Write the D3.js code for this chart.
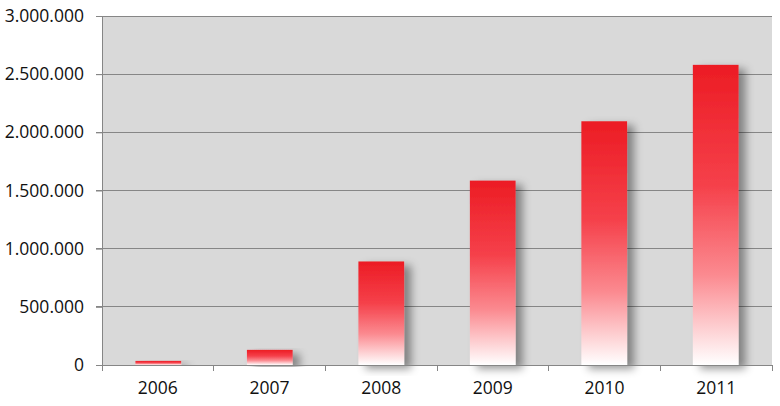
<!DOCTYPE html>
<html><head><meta charset="utf-8">
<script src="https://cdn.jsdelivr.net/npm/d3@7/dist/d3.min.js"></script>
<style>body{margin:0;background:#fff}svg{display:block}text{font-family:"Open Sans",sans-serif}</style>
</head><body>
<svg id="c" width="780" height="406"></svg>
<script>
const years = ["2006","2007","2008","2009","2010","2011"];
const values = [35000, 130000, 890000, 1585000, 2095000, 2580000];
const yTicks = [0, 500000, 1000000, 1500000, 2000000, 2500000, 3000000];

const svg = d3.select("#c");
const m = {l:102, r:772, t:16, b:365};
const x = d3.scaleBand().domain(years).range([m.l, m.r]).paddingInner(0.59).paddingOuter(0.3);
const xb = d3.scaleBand().domain(years).range([m.l, m.r]);
const y = d3.scaleLinear().domain([0, 3000000]).range([m.b, m.t]);
const fmt = v => d3.format(",")(v).replace(/,/g, ".");

const defs = svg.append("defs");
const g = defs.append("linearGradient").attr("id","grad").attr("x1",0).attr("y1",0).attr("x2",0).attr("y2",1);
[[0,"#ec1c24"],[0.4,"#f5404a"],[0.7,"#fb8a90"],[1,"#ffffff"]].forEach(s=>g.append("stop").attr("offset",s[0]).attr("stop-color",s[1]));
const f = defs.append("filter").attr("id","sh").attr("x","-50%").attr("y","-10%").attr("width","200%").attr("height","120%");
f.append("feDropShadow").attr("dx",7).attr("dy",4).attr("stdDeviation",4.5).attr("flood-color","#000").attr("flood-opacity",0.4);

svg.append("rect").attr("x",m.l).attr("y",m.t).attr("width",m.r-m.l).attr("height",m.b-m.t).attr("fill","#d9d9d9");

// grid
svg.append("g").selectAll("line").data(yTicks).join("line")
  .attr("x1",m.l-6).attr("x2",m.r).attr("y1",d=>y(d)).attr("y2",d=>y(d))
  .attr("stroke","#868686").attr("stroke-width",1).attr("shape-rendering","crispEdges");

// bars
svg.append("g").selectAll("rect").data(years).join("rect")
  .attr("x",d=>x(d)).attr("width",x.bandwidth())
  .attr("y",(d,i)=>y(values[i])).attr("height",(d,i)=>y(0)-y(values[i]))
  .attr("fill","url(#grad)").attr("filter","url(#sh)");

// redraw baseline over shadow
svg.append("line").attr("x1",m.l).attr("x2",m.r).attr("y1",m.b).attr("y2",m.b)
  .attr("stroke","#868686").attr("shape-rendering","crispEdges");

// y axis
const ya = d3.axisLeft(y).tickValues(yTicks).tickFormat(fmt).tickSize(6).tickPadding(12);
const yg = svg.append("g").attr("transform",`translate(${m.l},0)`).call(ya);
yg.select(".domain").attr("stroke","#868686");
yg.selectAll(".tick line").attr("stroke","#868686");
yg.selectAll("text").attr("font-size",17.5).attr("fill","#111");

// x axis
const xa = d3.axisBottom(xb).tickSize(0).tickPadding(17);
const xg = svg.append("g").attr("transform",`translate(0,${m.b})`).call(xa);
xg.select(".domain").attr("stroke","#868686");
xg.selectAll("text").attr("font-size",17.5).attr("fill","#111");
svg.append("g").selectAll("line").data(d3.range(years.length+1)).join("line")
  .attr("x1",i=>m.l+i*xb.step()).attr("x2",i=>m.l+i*xb.step())
  .attr("y1",m.b).attr("y2",m.b+6).attr("stroke","#868686").attr("shape-rendering","crispEdges");
</script>
</body></html>
